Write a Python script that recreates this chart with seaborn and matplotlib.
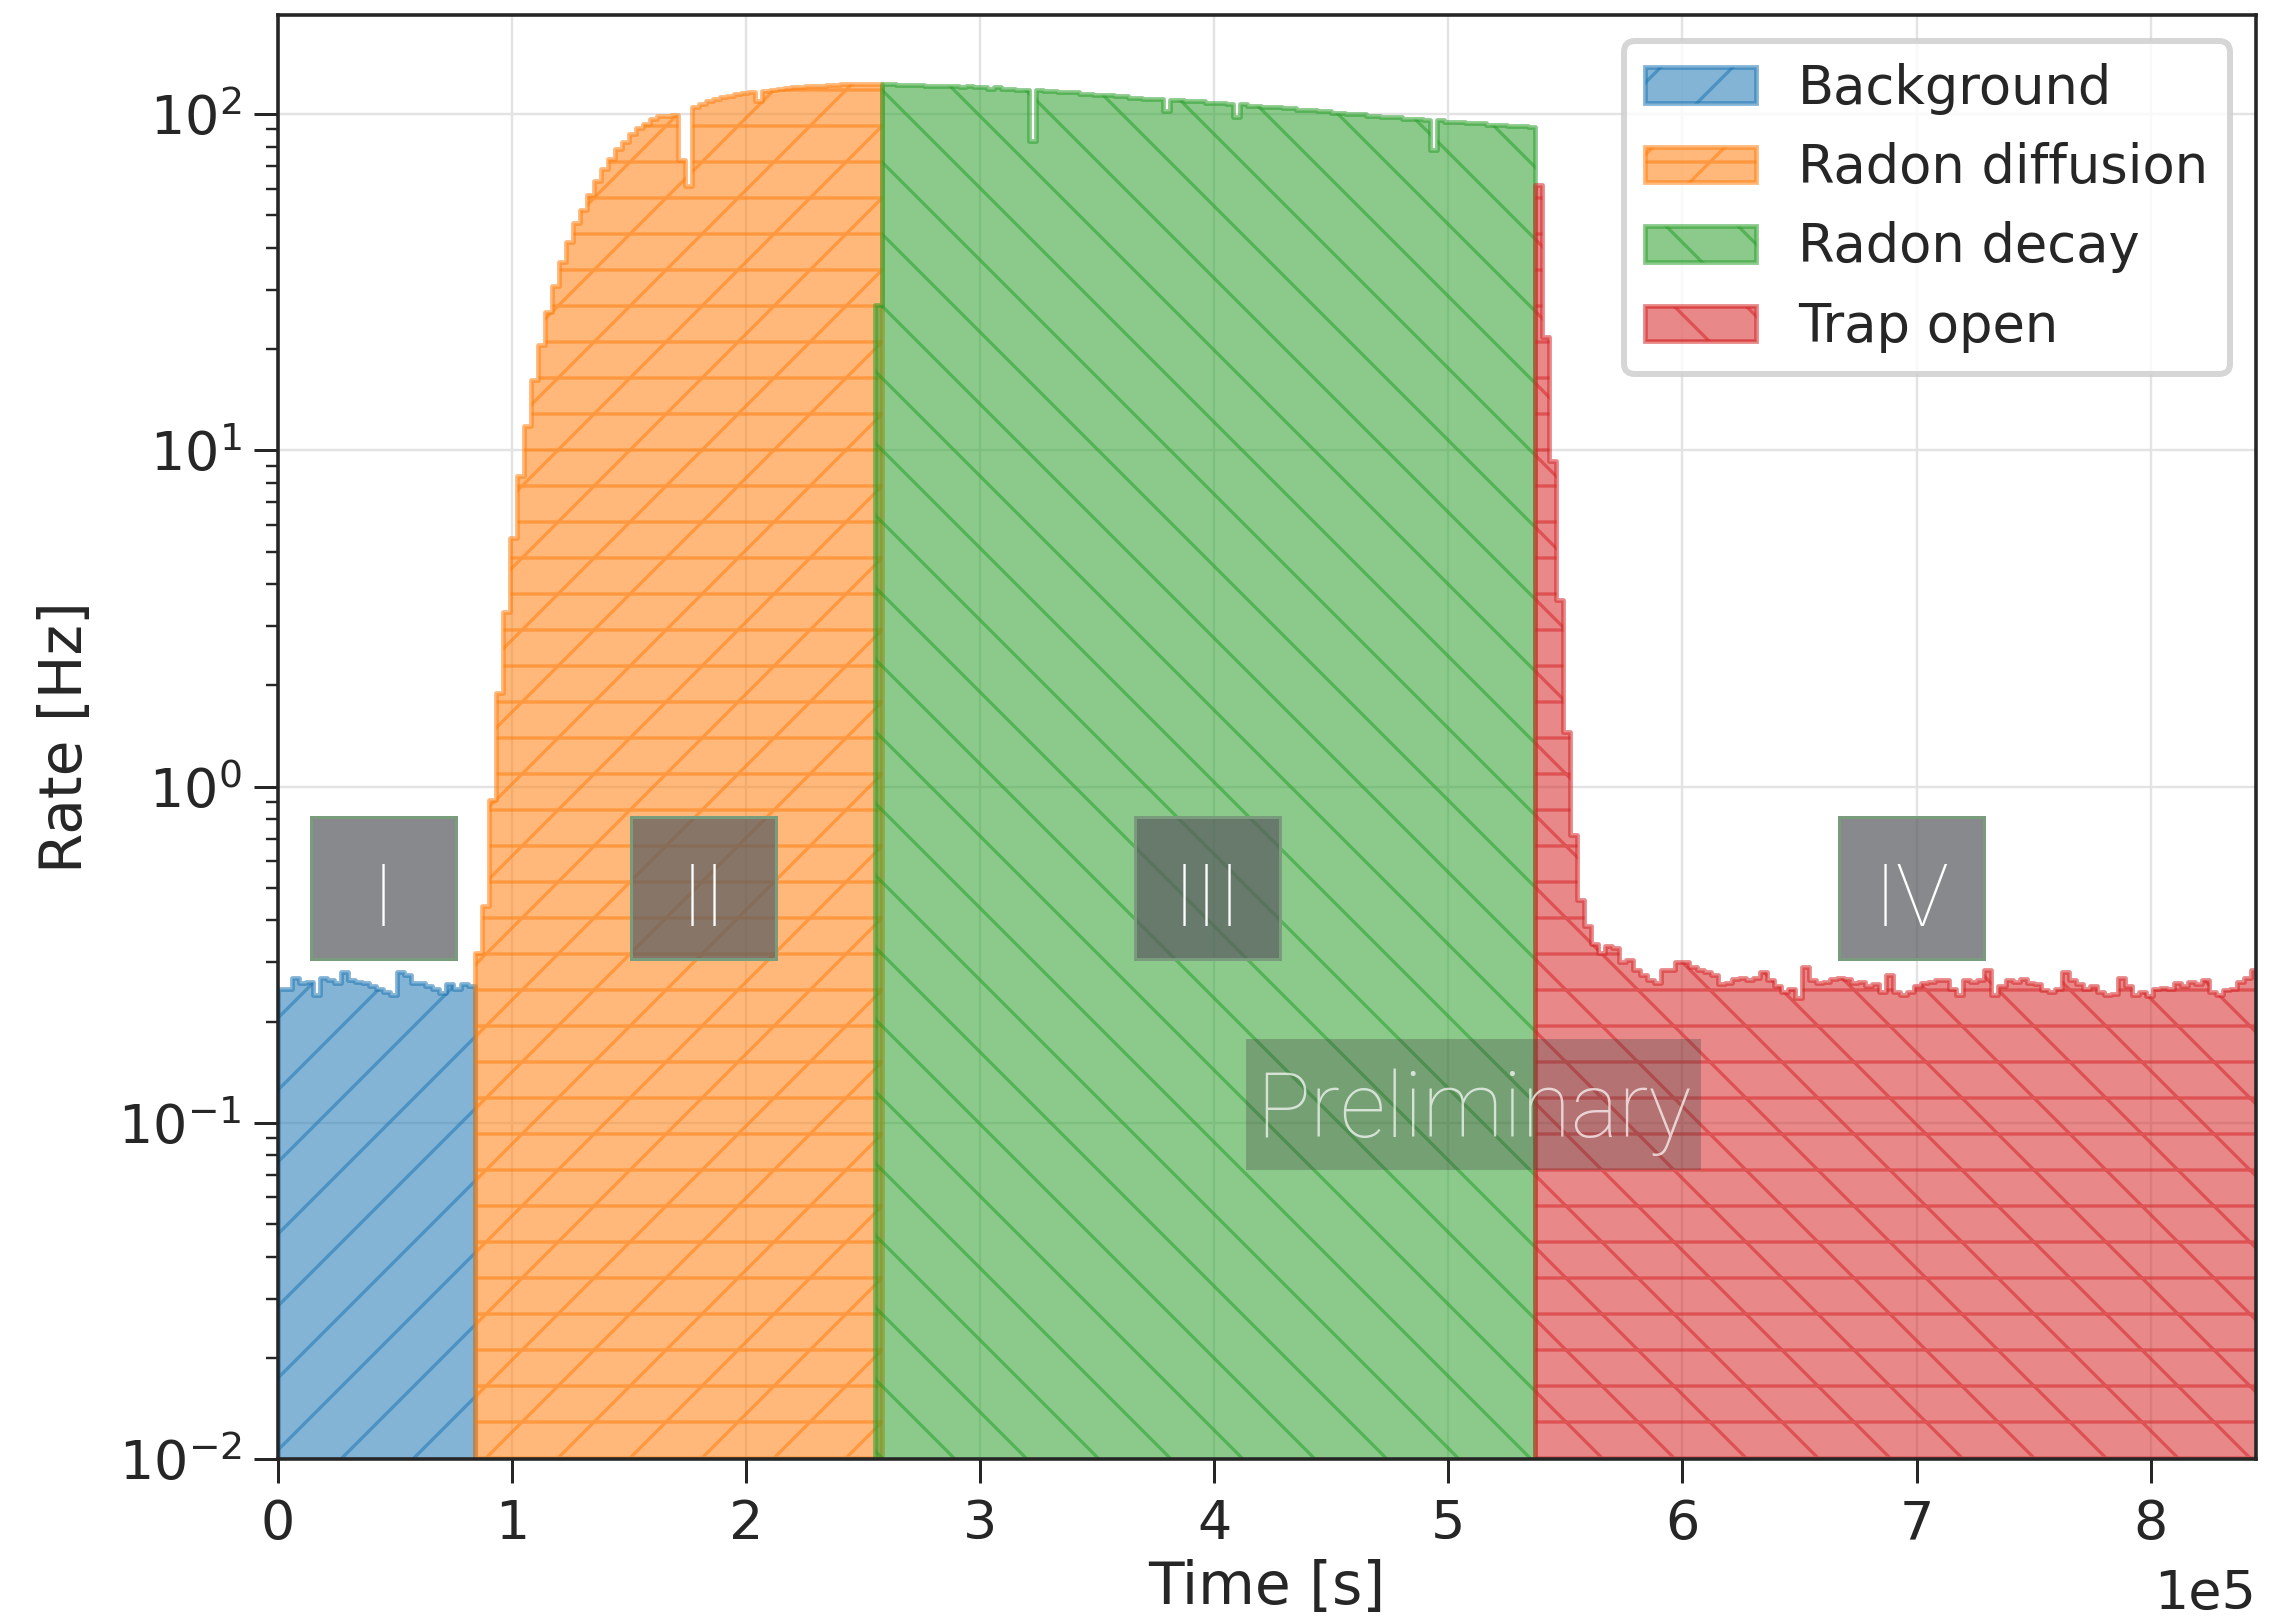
import numpy as np
import pandas as pd
import matplotlib
matplotlib.use("Agg")
import matplotlib.pyplot as plt
from matplotlib.patches import Patch, Rectangle
import seaborn as sns

# Rates per 3000 s bin
bin_width = 3000.0  # s

phase_names = ["Background", "Radon diffusion", "Radon decay", "Trap open"]
phase_start = [0.0, 84000.0, 255000.0, 537000.0]  # left edge of first bin [s]

background_rate = [
    0.25, 0.25, 0.27, 0.26, 0.262, 0.24, 0.27, 0.265, 0.26, 0.28,
    0.265, 0.262, 0.26, 0.255, 0.25, 0.245, 0.24, 0.28, 0.275, 0.26,
    0.26, 0.255, 0.25, 0.243, 0.258, 0.25, 0.258, 0.255,
]

diffusion_rate = [
    0.32, 0.44, 0.91, 1.9, 3.3, 5.5, 8.4, 11.8, 16.2, 20.6,
    25.7, 30.8, 36.2, 41.6, 47.3, 51.9, 57.3, 63.4, 68.7, 73.5,
    78.9, 82.8, 87.3, 90.9, 93.5, 96.5, 98.5, 99.0, 99.5, 73.0,
    61.0, 105.0, 107.0, 109.0, 111.0, 112.5, 113.5, 114.5, 115.5, 116.5,
    109.0, 117.5, 118.0, 119.0, 119.5, 120.0, 120.5, 121.0, 121.0, 121.5,
    122.0, 122.0, 122.5, 122.5, 123.0, 123.0, 123.0, 123.0,
]

decay_rate = [
    27.0,
    123, 123, 122, 122, 122, 122, 121, 121, 121, 121,
    121, 120, 121, 120, 120, 119, 120, 119, 119, 118,
    118, 83, 118, 117, 117, 116, 116, 116, 115, 115,
    114, 114, 114, 113, 113, 112, 112, 111, 111, 111,
    102, 110, 110, 109, 109, 109, 108, 108, 108, 107,
    98, 107, 106, 106, 105, 105, 105, 104, 104, 103,
    103, 103, 102, 102, 101, 101, 100, 100, 100, 99,
    99, 98, 98, 98, 97, 97, 97, 96, 78, 96,
    95, 95, 95, 94, 94, 94, 93, 93, 93, 92,
    92, 92, 91.5,
]

trap_open_rate = [
    61.5, 21.8, 9.3, 3.6, 1.45, 0.72, 0.46, 0.385, 0.34, 0.32,
    0.335, 0.33, 0.30, 0.305, 0.285, 0.275, 0.265, 0.26, 0.285, 0.285,
    0.30, 0.30, 0.29, 0.285, 0.28, 0.275, 0.258, 0.26, 0.268, 0.27,
    0.265, 0.27, 0.28, 0.265, 0.255, 0.245, 0.25, 0.235, 0.29, 0.265,
    0.26, 0.262, 0.268, 0.27, 0.268, 0.26, 0.262, 0.255, 0.258, 0.245,
    0.275, 0.245, 0.24, 0.245, 0.255, 0.26, 0.262, 0.265, 0.265, 0.25,
    0.24, 0.265, 0.262, 0.265, 0.285, 0.24, 0.255, 0.265, 0.262, 0.268,
    0.26, 0.258, 0.248, 0.245, 0.25, 0.28, 0.265, 0.258, 0.25, 0.255,
    0.245, 0.24, 0.242, 0.27, 0.255, 0.24, 0.245, 0.238, 0.25, 0.252,
    0.25, 0.26, 0.255, 0.262, 0.258, 0.265, 0.245, 0.24, 0.248, 0.25,
    0.262, 0.27, 0.285,
]

region_labels = ["I", "II", "III", "IV"]
region_label_time = [0.45e5, 1.82e5, 3.97e5, 6.98e5]
region_label_rate = 0.5

# Style
DPI = 432
sns.set_style("ticks")
plt.rcParams.update({
    "font.family": ["DejaVu Sans"],
    "hatch.linewidth": 0.55,
    "axes.edgecolor": "0.15",
    "axes.linewidth": 0.6,
})
stamp_font = ["Roboto", "Lato", "DejaVu Sans"]

fig = plt.figure(figsize=(2295 / DPI, 1619 / DPI), dpi=DPI)
ax = fig.add_axes([0.1211, 0.0988, 0.9830 - 0.1211, 0.9907 - 0.0988])
ax.set_yscale("log")

colors = sns.color_palette("tab10")[:4]
hatches = ["//", "//--", "\\\\", "\\\\--"]
rates = [background_rate, diffusion_rate, decay_rate, trap_open_rate]

for name, start, rate, color, hatch in zip(phase_names, phase_start, rates, colors, hatches):
    rate = np.asarray(rate, dtype=float)
    edges = start + bin_width * np.arange(len(rate) + 1)
    df = pd.DataFrame({"time": 0.5 * (edges[:-1] + edges[1:]), "rate": rate})
    sns.histplot(data=df, x="time", weights="rate", bins=list(edges),
                 element="step", fill=True, common_bins=False,
                 color=color, alpha=0.55, hatch=hatch, linewidth=0.8, ax=ax)
    ax.collections[-1].set_alpha(0.55)

ax.set_xlim(0, 845000)
ax.set_ylim(1e-2, 197)
ax.ticklabel_format(axis="x", style="sci", scilimits=(0, 0))
ax.xaxis.get_offset_text().set_fontsize(9.0)

ax.set_xlabel("Time [s]", fontsize=9.7, labelpad=1.5)
ax.set_ylabel("Rate [Hz]", fontsize=9.7)
ax.grid(True, which="major", color="#e3e3e3", linewidth=0.4)
ax.set_axisbelow(True)
ax.tick_params(axis="both", which="major", length=4, width=0.5, labelsize=9.0, color="0.15")
ax.tick_params(axis="both", which="minor", length=2, width=0.4, color="0.15")
ax.tick_params(axis="x", pad=2.5)
ax.tick_params(axis="y", pad=2)

handles = [Patch(facecolor=c, edgecolor=c, hatch=h, alpha=0.55, linewidth=0.8)
           for c, h in zip(colors, hatches)]
ax.legend(handles, phase_names, loc="upper right", fontsize=8.8,
          labelspacing=0.52, handlelength=2.1, handleheight=0.65)

# Region boxes
to_axes = ax.transAxes.inverted()
box_w, box_h = 0.0733, 0.0983
for lab, t in zip(region_labels, region_label_time):
    xa, ya = to_axes.transform(ax.transData.transform((t, region_label_rate)))
    ax.add_patch(Rectangle((xa - box_w / 2, ya - box_h / 2), box_w, box_h,
                           transform=ax.transAxes, facecolor=(0.35, 0.36, 0.38),
                           alpha=0.72, edgecolor="none", zorder=5))
    ax.add_patch(Rectangle((xa - box_w / 2, ya - box_h / 2), box_w, box_h,
                           transform=ax.transAxes, facecolor="none",
                           edgecolor="#789c7c", linewidth=0.5, zorder=5))
    ax.text(xa, ya - 0.010, lab, transform=ax.transAxes, ha="center", va="center",
            fontsize=14.7, color="white", family=stamp_font,
            fontweight="light", zorder=6)

# Preliminary stamp
ax.add_patch(Rectangle((0.6044 - 0.115, 0.2455 - 0.0454), 0.230, 0.0907,
                       transform=ax.transAxes, facecolor="#404040", alpha=0.3,
                       edgecolor="none", zorder=5))
ax.text(0.6044, 0.2405, "Preliminary", transform=ax.transAxes, ha="center",
        va="center", fontsize=15.0, color="white", alpha=0.7,
        family=stamp_font, fontweight="light", zorder=6)

fig.savefig("out.png", dpi=DPI)
